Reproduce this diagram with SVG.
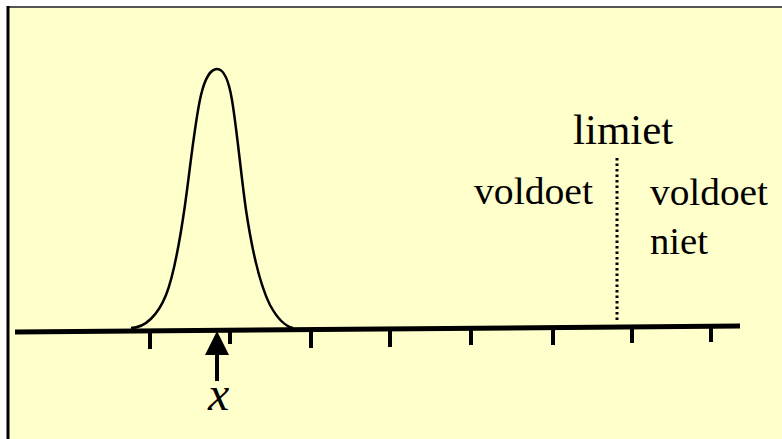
<svg xmlns="http://www.w3.org/2000/svg" width="782" height="439" viewBox="0 0 782 439">
<style>
text{font-family:'Liberation Serif','DejaVu Serif',serif;fill:#000}
.t{font-size:37px}
.tick{stroke:#000;stroke-width:4}
</style>
<rect x="0" y="0" width="782" height="439" fill="#ffffff"/>
<rect x="9" y="8" width="773" height="431" fill="#ffffcc"/>
<line x1="7" y1="7" x2="782" y2="7" stroke="#555" stroke-width="2"/>
<line x1="8" y1="6" x2="8" y2="439" stroke="#000" stroke-width="3"/>
<g id="curve">
<path d="M131,328 C145,328 158,315 166,295 C174,275 180,240 185,205 C190,170 195,120 201,95 C205,78 211,69 217,69 C224,69 229,82 232,100 C237,130 241,175 246,210 C252,250 260,285 270,305 C277,318 284,326 293,328" fill="none" stroke="#000" stroke-width="2.5"/>
</g>
<g id="axis">
<line x1="15" y1="332" x2="740" y2="326" stroke="#000" stroke-width="5"/>
<line class="tick" x1="150" y1="330" x2="150" y2="349"/>
<line class="tick" x1="230" y1="330" x2="230" y2="344"/>
<line class="tick" x1="311" y1="329" x2="311" y2="348"/>
<line class="tick" x1="390" y1="329" x2="390" y2="347"/>
<line class="tick" x1="471" y1="328" x2="471" y2="345"/>
<line class="tick" x1="553" y1="327" x2="553" y2="345"/>
<line class="tick" x1="632" y1="327" x2="632" y2="343"/>
<line class="tick" x1="711" y1="326" x2="711" y2="342"/>
</g>
<g id="limit">
<line x1="617" y1="158" x2="617" y2="323" stroke="#000" stroke-width="3" stroke-dasharray="2.5 3"/>
<text x="573" y="144" font-size="43">limiet</text>
<text class="t" x="474" y="203.5" textLength="119" lengthAdjust="spacingAndGlyphs">voldoet</text>
<text class="t" x="650" y="204.5" textLength="118" lengthAdjust="spacingAndGlyphs">voldoet</text>
<text class="t" x="650" y="254" textLength="58" lengthAdjust="spacingAndGlyphs">niet</text>
</g>
<g id="mean">
<line x1="217" y1="352" x2="217" y2="381" stroke="#000" stroke-width="4"/>
<polygon points="217,331 205,355 229,355" fill="#000"/>
<text x="208" y="410" font-size="48" font-style="italic">x</text>
</g>
</svg>
